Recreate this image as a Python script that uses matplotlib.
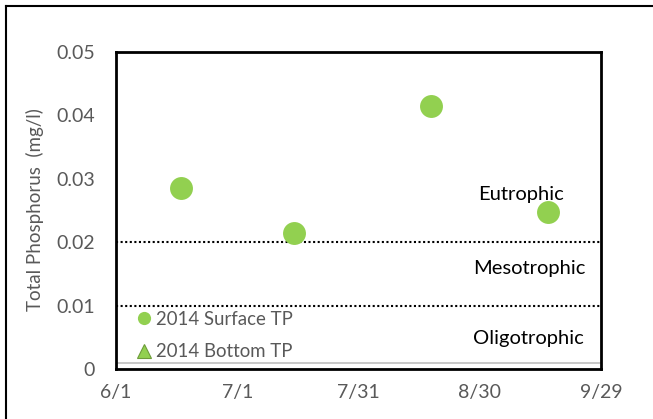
import datetime as dt
import matplotlib
matplotlib.use("Agg")
import matplotlib.pyplot as plt
from matplotlib.lines import Line2D

plt.rcParams["font.family"] = ["Lato", "DejaVu Sans"]

# data
surface_dates = ["2014-06-17", "2014-07-15", "2014-08-18", "2014-09-16"]
surface_tp = [0.0285, 0.0215, 0.0415, 0.0247]
bottom_dates = []
bottom_tp = []

eutrophic_limit = 0.02
mesotrophic_limit = 0.01
floor_line = 0.001

x_ticks = ["2014-06-01", "2014-07-01", "2014-07-31", "2014-08-30", "2014-09-29"]
x_ticklabels = ["6/1", "7/1", "7/31", "8/30", "9/29"]
y_ticks = [0, 0.01, 0.02, 0.03, 0.04, 0.05]
y_ticklabels = ["0", "0.01", "0.02", "0.03", "0.04", "0.05"]

GREEN = "#92D050"
GREY = "#595959"


def d(s):
    return dt.datetime.strptime(s, "%Y-%m-%d")


fig = plt.figure(figsize=(6.53, 4.19), dpi=100)
ax = fig.add_axes([116 / 653, 1 - 369 / 419, 485 / 653, 317 / 419])

ax.plot([d(s) for s in surface_dates], surface_tp, "o", color=GREEN,
        markersize=16.5, markeredgewidth=0, zorder=3)
if bottom_dates:
    ax.plot([d(s) for s in bottom_dates], bottom_tp, "^", color=GREEN,
            markersize=10, zorder=3)

xmin, xmax = d(x_ticks[0]), d(x_ticks[-1])
ax.set_xlim(xmin, xmax)
ax.set_ylim(0, 0.05)

ax.hlines([eutrophic_limit, mesotrophic_limit], xmin, xmax, colors="black",
          linestyles=(0, (1, 1.2)), linewidth=1.5, zorder=2)
ax.hlines(floor_line, xmin, xmax, colors="#BFBFBF", linewidth=1.2, zorder=2)

ax.set_xticks([d(s) for s in x_ticks])
ax.set_xticklabels(x_ticklabels)
ax.set_yticks(y_ticks)
ax.set_yticklabels(y_ticklabels)
ax.tick_params(length=0, labelsize=14, colors=GREY)
ax.tick_params(axis="y", pad=15)
ax.tick_params(axis="x", pad=11)
for sp in ax.spines.values():
    sp.set_linewidth(2)
    sp.set_color("black")

fig.text(35 / 653, 1 - 210 / 419, "Total Phosphorus  (mg/l)", rotation=90,
         ha="center", va="center", fontsize=13.5, color=GREY)

zone_labels = [("Eutrophic", 0.0275, 521), ("Mesotrophic", 0.0158, 529), ("Oligotrophic", 0.0048, 528)]
for txt, yv, xpix in zone_labels:
    ax.text((xpix - 116) / 485, yv, txt, transform=ax.get_yaxis_transform(),
            ha="center", va="center", fontsize=14.5, color="black")

handles = [
    Line2D([], [], marker="o", linestyle="none", color=GREEN, markersize=9.5, markeredgewidth=0),
    Line2D([], [], marker="^", linestyle="none", color=GREEN, markeredgecolor="#6E9C3A",
           markersize=10, markeredgewidth=0.8),
]
ax.legend(handles, ["2014 Surface TP", "2014 Bottom TP"], loc="lower left",
          bbox_to_anchor=(0.0, -0.026), frameon=False, fontsize=13.4,
          labelcolor=GREY, handletextpad=0.05, handlelength=1.2, labelspacing=0.85)

# outer chart-area frame (left and top edges visible)
fig.add_artist(Line2D([6 / 653, 6 / 653], [0, 1 - 6 / 419], color="black", linewidth=1.5))
fig.add_artist(Line2D([6 / 653, 1], [1 - 6 / 419, 1 - 6 / 419], color="black", linewidth=1.5))

fig.savefig("out.png", dpi=100)
